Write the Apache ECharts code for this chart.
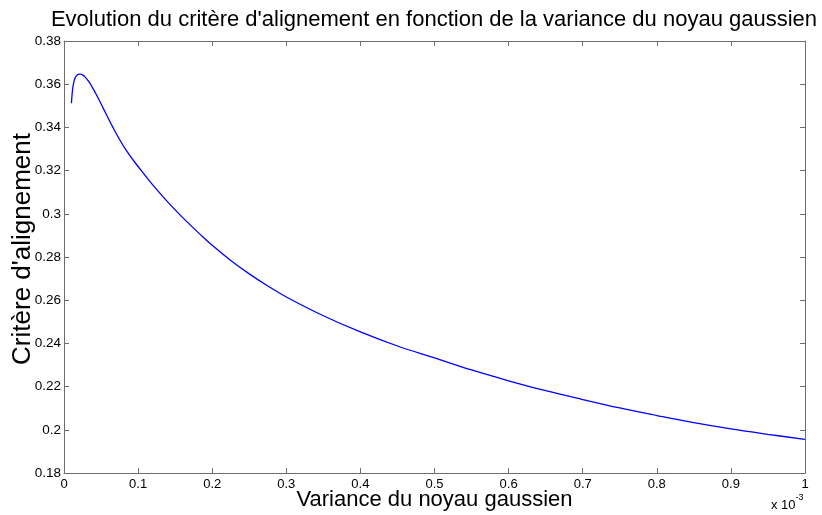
<!DOCTYPE html>
<html>
<head>
<meta charset="utf-8">
<script src="https://cdn.jsdelivr.net/npm/echarts@6/dist/echarts.min.js"></script>
<style>html,body{margin:0;padding:0;background:#fff}#c{width:822px;height:515px}</style>
</head>
<body>
<div id="c"></div>
<script>
// Variance (x 10^-3)
var variance = [0.010,0.011,0.012,0.014,0.016,0.019,0.022,0.025,0.028,0.033,0.039,0.046,0.053,0.060,0.066,0.075,0.084,0.095,0.107,0.120,0.135,0.150,0.165,0.183,0.200,0.225,0.250,0.275,0.300,0.350,0.400,0.450,0.500,0.550,0.600,0.650,0.700,0.750,0.800,0.850,0.900,0.950,1.000];
// Critère d'alignement
var critere = [0.3512,0.3556,0.3587,0.3620,0.3636,0.3646,0.3647,0.3643,0.3635,0.3614,0.3581,0.3536,0.3488,0.3440,0.3400,0.3344,0.3294,0.3241,0.3188,0.3133,0.3074,0.3018,0.2966,0.2907,0.2854,0.2784,0.2722,0.2666,0.2615,0.2528,0.2453,0.2388,0.2333,0.2277,0.2227,0.2181,0.2140,0.2101,0.2066,0.2033,0.2004,0.1979,0.1956];

var titleText = "Evolution du critère d'alignement en fonction de la variance du noyau gaussien";
var xName = "Variance du noyau gaussien";
var yName = "Critère d'alignement";

var font = "Liberation Sans, Arial, sans-serif";
var axisColor = '#6e6e6e';

function fmt(v){ return String(+v.toFixed(4)); }

var pts = variance.map(function(v,i){ return [v, critere[i]]; });

var chart = echarts.init(document.getElementById('c'));
var baseAxis = {
  axisLine:{show:true, onZero:false, lineStyle:{color:axisColor, width:1}},
  axisTick:{show:true, inside:true, length:5, lineStyle:{color:axisColor}},
  splitLine:{show:false}
};
chart.setOption({
  animation:false,
  backgroundColor:'#fff',
  title:[{
    text:titleText, left:429, top:4, textAlign:'center',
    textStyle:{fontFamily:font, fontSize:22, fontWeight:'normal', color:'#000'}
  },{
    text:'x 10{s|-3}', left:766, top:488,
    textStyle:{fontFamily:font, fontSize:13, fontWeight:'normal', color:'#000',
      rich:{s:{fontFamily:font, fontSize:9, color:'#000', verticalAlign:'top', padding:[0,0,16,0]}}}
  }],
  grid:{left:64, right:17, top:41, bottom:42, containLabel:false, outerBoundsMode:'none'},
  xAxis:[Object.assign({}, baseAxis, {
    type:'value', min:0, max:1, interval:0.1, position:'bottom',
    name:xName, nameLocation:'middle', nameGap:16, nameMoveOverlap:false,
    nameTextStyle:{fontFamily:font, fontSize:22, color:'#000'},
    axisLabel:{fontFamily:font, fontSize:13, color:'#000', margin:5, formatter:fmt}
  }), Object.assign({}, baseAxis, {
    type:'value', min:0, max:1, interval:0.1, position:'top', axisLabel:{show:false}
  })],
  yAxis:[Object.assign({}, baseAxis, {
    type:'value', min:0.18, max:0.38, interval:0.02, position:'left',
    name:yName, nameLocation:'middle', nameGap:28, nameMoveOverlap:false,
    nameTextStyle:{fontFamily:font, fontSize:26, color:'#000', padding:[0,0,0,16]},
    axisLabel:{fontFamily:font, fontSize:13.5, color:'#000', margin:3, formatter:fmt}
  }), Object.assign({}, baseAxis, {
    type:'value', min:0.18, max:0.38, interval:0.02, position:'right', axisLabel:{show:false}
  })],
  series:[{
    type:'line', data:pts, smooth:0.4, showSymbol:false,
    lineStyle:{color:'#0000ff', width:1.3}, xAxisIndex:0, yAxisIndex:0
  }]
});
</script>
</body>
</html>
